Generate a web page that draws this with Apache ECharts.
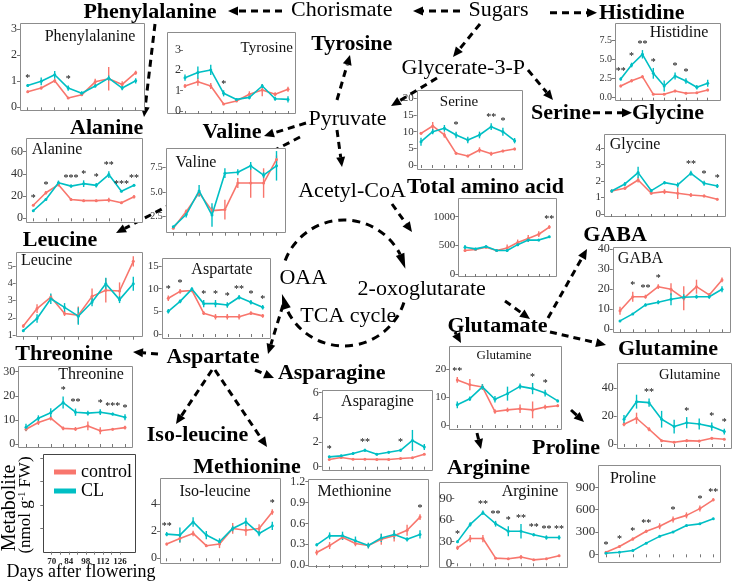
<!DOCTYPE html>
<html>
<head>
<meta charset="utf-8">
<script src="https://cdn.jsdelivr.net/npm/echarts@6/dist/echarts.min.js"></script>
<style>html,body{margin:0;padding:0;background:#fff}#chart{width:733px;height:582px}</style>
</head>
<body>
<div id="chart"></div>
<script>
// sampling days (days after flowering)
const days = [70, 77, 84, 91, 98, 105, 112, 119, 126];
const dayLabels = [70, 84, 98, 112, 126];

// metabolite means (nmol g-1 FW) and error bars, control vs CL, plus significance marks
const pheCtrl = [0.6, 0.74, 1.02, 0.36, 0.48, 0.98, 1.1, 0.88, 1.33];
const pheCL = [0.84, 1.0, 1.25, 0.74, 0.54, 0.82, 1.12, 0.74, 1.02];
const pheCtrlErr = [0.05, 0.06, 0.08, 0.04, 0.05, 0.12, 0.45, 0.12, 0.08];
const pheCLErr = [0.06, 0.15, 0.15, 0.1, 0.08, 0.06, 0.1, 0.08, 0.1];
const pheSig = ['*', '', '', '*', '', '', '', '', ''];
const pheTicks = [0, 1, 2, 3];

const tyrCtrl = [1.23, 1.44, 1.23, 0.34, 0.49, 0.82, 1.03, 0.82, 1.07];
const tyrCL = [1.64, 1.89, 2.02, 0.87, 0.57, 0.67, 1.23, 0.6, 0.57];
const tyrCtrlErr = [0.1, 0.2, 0.15, 0.05, 0.05, 0.15, 0.3, 0.1, 0.12];
const tyrCLErr = [0.15, 0.3, 0.25, 0.15, 0.05, 0.1, 0.1, 0.1, 0.15];
const tyrSig = ['', '', '', '*', '', '', '', '', ''];
const tyrTicks = [0, 1, 2, 3];

const alaCtrl = [11.8, 23, 30.3, 17, 15.9, 15.9, 16.5, 14, 19.4];
const alaCL = [6.8, 17, 32, 29, 31.2, 29.7, 39.4, 24.4, 29.7];
const alaCtrlErr = [1, 1.5, 1.5, 1, 1, 1, 2, 1, 1.5];
const alaCLErr = [1, 1, 2, 1.5, 3, 2, 3, 1, 1];
const alaSig = ['*', '*', '', '***', '*', '*', '**', '***', '**'];
const alaTicks = [0, 20, 40, 60];

const valCtrl = [1.3, 3.0, 4.9, 3.1, 3.2, 5.9, 5.9, 5.9, 8.3];
const valCL = [1.45, 2.7, 5.1, 2.65, 6.9, 7.0, 7.65, 6.7, 7.65];
const valCtrlErr = [0.1, 0.2, 0.3, 0.4, 1.0, 0.5, 1.5, 1.5, 0.4];
const valCLErr = [0.1, 0.3, 0.6, 1.2, 0.5, 0.3, 0.4, 0.3, 1.5];
const valSig = ['', '', '', '', '', '', '', '', ''];
const valTicks = [2.5, 5, 7.5];

const leuCtrl = [1.52, 2.53, 3.2, 2.25, 2.15, 3.24, 3.59, 3.55, 5.27];
const leuCL = [1.25, 1.96, 3.1, 2.6, 2.09, 2.91, 3.97, 3.05, 3.97];
const leuCtrlErr = [0.1, 0.25, 0.15, 0.15, 0.5, 0.45, 0.7, 0.5, 0.3];
const leuCLErr = [0.08, 0.25, 0.3, 0.25, 0.5, 0.25, 0.35, 0.2, 0.4];
const leuSig = ['', '', '', '', '', '', '', '', ''];
const leuTicks = [1, 2, 3, 4, 5];

const aspCtrl = [7.9, 9.4, 9.6, 4.6, 3.8, 3.8, 3.8, 4.6, 4.0];
const aspCL = [5.0, 7.2, 9.9, 6.7, 6.7, 6.4, 8.1, 7.0, 5.9];
const aspCtrlErr = [0.6, 0.5, 0.4, 0.4, 0.6, 0.6, 0.6, 0.4, 0.4];
const aspCLErr = [0.5, 0.4, 0.4, 0.8, 0.8, 0.6, 0.5, 0.5, 0.5];
const aspSig = ['*', '*', '', '*', '*', '*', '**', '*', '*'];
const aspTicks = [0, 5, 10, 15];

const thrCtrl = [6.1, 8.9, 10.7, 6.5, 6.25, 7.5, 5.5, 6.1, 6.8];
const thrCL = [6.9, 10.7, 13, 17.2, 13.2, 12.8, 13.2, 12.4, 11.1];
const thrCtrlErr = [0.8, 1, 1, 0.8, 0.8, 1.8, 1.5, 0.5, 0.8];
const thrCLErr = [1.5, 1.2, 1.8, 2.5, 1.5, 1, 1.2, 0.6, 1.2];
const thrSig = ['', '', '', '*', '**', '', '*', '***', '*'];
const thrTicks = [0, 10, 20, 30];

const serCtrl = [9.5, 11.7, 9, 3.5, 2.7, 4.5, 3.4, 4.2, 4.8];
const serCL = [7, 10, 11, 9, 7.5, 9, 11.5, 10, 7.3];
const serCtrlErr = [0.4, 1.2, 0.8, 0.4, 0.4, 0.8, 0.6, 0.4, 0.4];
const serCLErr = [1.2, 0.8, 1, 1, 1, 1, 1, 1.2, 0.8];
const serSig = ['', '', '', '*', '', '', '**', '*', ''];
const serTicks = [0, 5, 10, 15, 20];

const hisCtrl = [1.52, 2.2, 2.73, 0.44, 0.44, 0.87, 0.57, 0.65, 1.0];
const hisCL = [2.43, 4.25, 5.64, 3.17, 1.52, 2.82, 2.17, 1.35, 1.87];
const hisCtrlErr = [0.15, 0.2, 0.2, 0.1, 0.1, 0.15, 0.1, 0.1, 0.15];
const hisCLErr = [0.2, 0.3, 0.55, 0.7, 0.7, 0.45, 0.35, 0.3, 0.45];
const hisSig = ['**', '*', '**', '*', '', '*', '*', '', ''];
const hisTicks = [0, 2.5, 5, 7.5];

const glyCtrl = [1.4, 1.57, 2.07, 1.26, 1.36, 1.26, 1.16, 1.1, 0.9];
const glyCL = [1.4, 1.83, 2.52, 1.42, 1.91, 1.77, 2.48, 1.87, 1.71];
const glyCtrlErr = [0.08, 0.1, 0.15, 0.08, 0.15, 0.35, 0.12, 0.08, 0.08];
const glyCLErr = [0.1, 0.12, 0.35, 0.1, 0.1, 0.15, 0.15, 0.15, 0.12];
const glySig = ['', '', '', '', '', '', '**', '*', '*'];
const glyTicks = [0, 1, 2, 3, 4];

const totCtrl = [410, 427, 466, 410, 455, 551, 620, 694, 819];
const totCL = [466, 438, 478, 410, 410, 512, 592, 592, 648];
const totCtrlErr = [25, 20, 15, 15, 60, 50, 60, 50, 30];
const totCLErr = [40, 20, 15, 15, 20, 25, 30, 20, 20];
const totSig = ['', '', '', '', '', '', '', '', '**'];
const totTicks = [0, 500, 1000];

const gabaCtrl = [9.3, 16.3, 16.3, 21.3, 20, 15.5, 21.3, 17.2, 24.7];
const gabaCL = [4.2, 7.7, 12.2, 13.5, 15, 16, 16.3, 16.3, 20];
const gabaCtrlErr = [2, 2.5, 1, 1.2, 3, 6, 3.5, 1, 1.2];
const gabaCLErr = [0.5, 0.5, 0.8, 1, 3, 1.5, 1, 1, 1.5];
const gabaSig = ['', '*', '**', '*', '', '', '', '', ''];
const gabaTicks = [0, 10, 20, 30, 40];

const glnMCtrl = [16.1, 14.4, 13.6, 4.8, 5.4, 5.8, 5.4, 6.4, 6.9];
const glnMCL = [7.2, 9.4, 13.6, 9.2, 11.2, 13.8, 13, 11.4, 8.6];
const glnMCtrlErr = [1, 2, 1, 0.8, 0.8, 1.5, 3, 0.8, 0.5];
const glnMCLErr = [1.2, 0.8, 1, 1.2, 2.5, 1, 2, 1.2, 0.5];
const glnMSig = ['**', '', '', '', '', '', '*', '*', ''];
const glnMTicks = [0, 10, 20];

const glnRCtrl = [14.2, 18.5, 10.6, 2.4, 1.2, 2.4, 2.1, 4.1, 3.4];
const glnRCL = [17.8, 30.4, 29.7, 17.8, 12.5, 15.3, 14.4, 12.5, 8.9];
const glnRCtrlErr = [1.5, 4, 1.5, 0.8, 0.5, 1, 0.8, 0.8, 0.6];
const glnRCLErr = [3, 5, 3, 6, 5, 4, 4, 3, 2];
const glnRSig = ['', '', '**', '', '', '*', '', '*', '*'];
const glnRTicks = [0, 20, 40];

const asnCtrl = [0.59, 0.75, 0.61, 0.61, 0.59, 0.59, 0.67, 0.72, 1.01];
const asnCL = [0.8, 0.88, 1.07, 1.33, 1.01, 1.17, 1.33, 2.13, 1.6];
const asnCtrlErr = [0.05, 0.05, 0.05, 0.05, 0.05, 0.08, 0.05, 0.05, 0.06];
const asnCLErr = [0.08, 0.08, 0.1, 0.12, 0.1, 0.1, 0.12, 0.85, 0.25];
const asnSig = ['*', '', '', '**', '', '', '*', '', ''];
const asnTicks = [0, 2, 4, 6];

const metCtrl = [0.18, 0.28, 0.4, 0.31, 0.28, 0.37, 0.42, 0.5, 0.69];
const metCL = [0.29, 0.42, 0.42, 0.35, 0.28, 0.39, 0.44, 0.37, 0.44];
const metCtrlErr = [0.04, 0.05, 0.04, 0.04, 0.04, 0.08, 0.08, 0.08, 0.04];
const metCLErr = [0.02, 0.05, 0.06, 0.06, 0.04, 0.06, 0.06, 0.03, 0.06];
const metSig = ['', '', '', '', '', '', '', '', '*'];
const metTicks = [0, 0.3, 0.6, 0.9, 1.2];

const ileCtrl = [1.05, 1.46, 1.83, 0.93, 1.05, 2.2, 2.07, 2.2, 3.41];
const ileCL = [1.78, 1.71, 2.68, 1.71, 1.22, 2.2, 2.68, 1.83, 2.39];
const ileCtrlErr = [0.1, 0.3, 0.2, 0.1, 0.3, 0.4, 0.4, 0.3, 0.2];
const ileCLErr = [0.15, 0.55, 0.35, 0.3, 0.25, 0.2, 0.3, 0.2, 0.3];
const ileSig = ['**', '', '', '', '', '', '', '', '*'];
const ileTicks = [0, 2, 4];

const argCtrl = [21.4, 34.3, 34.3, 7.1, 6.2, 8.6, 4.8, 6.2, 10.5];
const argCL = [30, 53.8, 70, 54.8, 44.3, 44.3, 39.5, 35.7, 35.7];
const argCtrlErr = [3, 5, 5, 1.5, 1, 3, 1, 1, 1.5];
const argCLErr = [2, 3, 3, 4, 7, 10, 2, 3, 3];
const argSig = ['*', '', '**', '**', '*', '**', '**', '**', '**'];
const argTicks = [0, 30, 60, 90];

const proCtrl = [27, 105, 205, 309, 377, 468, 523, 614, 732];
const proCL = [14, 27, 50, 150, 241, 300, 386, 409, 477];
const proCtrlErr = [10, 15, 20, 20, 40, 40, 40, 40, 20];
const proCLErr = [8, 8, 10, 10, 10, 10, 10, 10, 15];
const proSig = ['*', '*', '*', '**', '', '*', '', '*', '**'];
const proTicks = [0, 300, 600, 900];

const RED = '#F8766D', CYAN = '#00BFC4';
const SERIF = '"Liberation Serif", "Times New Roman", serif';

// layout: box = panel frame [l,t,r,b], px = first/last point x, cal = two [value, y] pairs
const panels = [
  { c: pheCtrl, l: pheCL, ce: pheCtrlErr, le: pheCLErr, sig: pheSig, ticks: pheTicks, box: [20, 23, 144, 110], px: [27.7, 135.7], cal: [[0, 107.3], [3, 29.3]], fs: 12, title: 'Phenylalanine', tx: 90, ty: 37, tfs: 16 },
  { c: tyrCtrl, l: tyrCL, ce: tyrCtrlErr, le: tyrCLErr, sig: tyrSig, ticks: tyrTicks, box: [167, 32, 295, 113], px: [185, 288], cal: [[0, 111], [3, 50]], fs: 12, yoff: -16, title: 'Tyrosine', tx: 266.7, ty: 48, tfs: 15 },
  { c: alaCtrl, l: alaCL, ce: alaCtrlErr, le: alaCLErr, sig: alaSig, ticks: alaTicks, box: [26, 138, 141.7, 221.7], px: [33.3, 134], cal: [[0, 218.3], [60, 151.7]], fs: 12, title: 'Alanine', tx: 57, ty: 150, tfs: 16 },
  { c: valCtrl, l: valCL, ce: valCtrlErr, le: valCLErr, sig: valSig, ticks: valTicks, box: [165.7, 148.3, 285, 232.7], px: [173.3, 276.5], cal: [[2.5, 216.5], [7.5, 167.3]], fs: 10, dec: 1, title: 'Valine', tx: 196, ty: 163, tfs: 16 },
  { c: leuCtrl, l: leuCL, ce: leuCtrlErr, le: leuCLErr, sig: leuSig, ticks: leuTicks, box: [15.7, 252.3, 141.7, 336.7], px: [23.3, 133.3], cal: [[1, 335], [5, 266]], fs: 10, title: 'Leucine', tx: 46.7, ty: 261, tfs: 16 },
  { c: aspCtrl, l: aspCL, ce: aspCtrlErr, le: aspCLErr, sig: aspSig, ticks: aspTicks, box: [161.7, 258.3, 270, 338.3], px: [168.3, 262.7], cal: [[0, 334], [15, 266]], fs: 11, title: 'Aspartate', tx: 222, ty: 270, tfs: 16 },
  { c: thrCtrl, l: thrCL, ce: thrCtrlErr, le: thrCLErr, sig: thrSig, ticks: thrTicks, box: [18.3, 366, 132.7, 446.7], px: [26, 125], cal: [[0, 444], [30, 371.7]], fs: 12, title: 'Threonine', tx: 91, ty: 374.5, tfs: 16 },
  { c: serCtrl, l: serCL, ce: serCtrlErr, le: serCLErr, sig: serSig, ticks: serTicks, box: [416.7, 90, 521.7, 169.3], px: [421, 514.6], cal: [[0, 165], [20, 98.3]], fs: 11, title: 'Serine', tx: 459, ty: 101.7, tfs: 15 },
  { c: hisCtrl, l: hisCL, ce: hisCtrlErr, le: hisCLErr, sig: hisSig, ticks: hisTicks, box: [615, 23.3, 720, 100], px: [620.7, 707.7], cal: [[0, 97.7], [7.5, 40]], fs: 10, dec: 1, title: 'Histidine', tx: 679, ty: 32.3, tfs: 16 },
  { c: glyCtrl, l: glyCL, ce: glyCtrlErr, le: glyCLErr, sig: glySig, ticks: glyTicks, box: [604, 134.3, 725, 216.7], px: [611.7, 717.3], cal: [[0, 214], [4, 148.3]], fs: 11, title: 'Glycine', tx: 635, ty: 144.3, tfs: 16 },
  { c: totCtrl, l: totCL, ce: totCtrlErr, le: totCLErr, sig: totSig, ticks: totTicks, box: [458.3, 198.3, 556, 276], px: [465, 549.3], cal: [[0, 274], [1000, 216.7]], fs: 11 },
  { c: gabaCtrl, l: gabaCL, ce: gabaCtrlErr, le: gabaCLErr, sig: gabaSig, ticks: gabaTicks, box: [612.7, 247.3, 730, 332.7], px: [620, 722], cal: [[0, 329.3], [40, 249.3]], fs: 12, title: 'GABA', tx: 640.5, ty: 258.3, tfs: 16 },
  { c: glnMCtrl, l: glnMCL, ce: glnMCtrlErr, le: glnMCLErr, sig: glnMSig, ticks: glnMTicks, box: [449.3, 346, 561.7, 429.3], px: [457.3, 557.7], cal: [[0, 425], [20, 369]], fs: 11, title: 'Glutamine', tx: 504, ty: 356, tfs: 13 },
  { c: glnRCtrl, l: glnRCL, ce: glnRCtrlErr, le: glnRCLErr, sig: glnRSig, ticks: glnRTicks, box: [616.7, 363.3, 730.7, 448.3], px: [624, 724.3], cal: [[0, 444], [40, 388.3]], fs: 12, title: 'Glutamine', tx: 689.7, ty: 375, tfs: 14.5 },
  { c: asnCtrl, l: asnCL, ce: asnCtrlErr, le: asnCLErr, sig: asnSig, ticks: asnTicks, box: [321.7, 390, 431.7, 470], px: [329.3, 424.3], cal: [[0, 466.7], [6, 392.7]], fs: 12, title: 'Asparagine', tx: 377.5, ty: 401.7, tfs: 16 },
  { c: metCtrl, l: metCL, ce: metCtrlErr, le: metCLErr, sig: metSig, ticks: metTicks, box: [308.3, 479.3, 428, 566.7], px: [316.7, 420], cal: [[0, 565], [1.2, 481.7]], fs: 12, dec: 1, title: 'Methionine', tx: 354.5, ty: 491.7, tfs: 16 },
  { c: ileCtrl, l: ileCL, ce: ileCtrlErr, le: ileCLErr, sig: ileSig, ticks: ileTicks, box: [160, 478.3, 280, 563.3], px: [166.7, 272.3], cal: [[0, 558.3], [4, 504]], fs: 12, title: 'Iso-leucine', tx: 215, ty: 491.7, tfs: 16 },
  { c: argCtrl, l: argCL, ce: argCtrlErr, le: argCLErr, sig: argSig, ticks: argTicks, box: [439.3, 481.7, 567.3, 566.7], px: [457.5, 559.1], cal: [[0, 563.3], [90, 498.3]], fs: 13, yoff: -15, title: 'Arginine', tx: 530, ty: 491.7, tfs: 16 },
  { c: proCtrl, l: proCL, ce: proCtrlErr, le: proCLErr, sig: proSig, ticks: proTicks, box: [598.3, 465, 720, 561.7], px: [606, 713.3], cal: [[0, 554.3], [900, 487.3]], fs: 13, title: 'Proline', tx: 633, ty: 478.3, tfs: 16 }
];

const grids = [], xAxes = [], yAxes = [], series = [], graphics = [];

function axesFor(i, p, frameColor) {
  const [l, t, r, b] = p.box;
  const dpx = (p.px[1] - p.px[0]) / (days[days.length - 1] - days[0]);
  const [[v0, y0], [v1, y1]] = p.cal;
  const ppu = (y0 - y1) / (v1 - v0);
  grids.push({ left: l, top: t, width: r - l, height: b - t, show: false });
  // white framed panel, drawn over the pathway arrows but under axes and series
  graphics.push({ type: 'rect', z: 1, silent: true, shape: { x: Math.round(l) + 0.5, y: Math.round(t) + 0.5, width: Math.round(r - l), height: Math.round(b - t) }, style: { fill: '#fff', stroke: frameColor, lineWidth: 1 } });
  xAxes.push({
    gridIndex: i, type: 'value', z: 5,
    min: days[0] - (p.px[0] - l) / dpx, max: days[days.length - 1] + (r - p.px[1]) / dpx,
    axisLine: { show: false }, splitLine: { show: false },
    axisTick: { show: true, customValues: days, length: 3, lineStyle: { color: '#777' } },
    axisLabel: p.xLabels ? { customValues: p.xLabels, fontSize: 9, fontWeight: 'bold', color: '#222', fontFamily: SERIF, margin: 5 } : { show: false }
  });
  yAxes.push({
    gridIndex: i, type: 'value', offset: p.yoff || 0, z: 5,
    min: v0 - (b - y0) / ppu, max: v1 + (y1 - t) / ppu,
    axisLine: { show: false }, splitLine: { show: false },
    axisTick: { show: true, customValues: p.ticks, length: 3, lineStyle: { color: '#777' } },
    axisLabel: p.noYLabels ? { show: false } : {
      customValues: p.ticks, fontSize: p.fs, color: '#333', fontFamily: SERIF, margin: p.yoff ? 2 : 3,
      formatter: v => p.dec ? v.toFixed(p.dec) : String(v)
    }
  });
}

function errSeries(i, vals, errs, color) {
  return {
    type: 'custom', xAxisIndex: i, yAxisIndex: i, silent: true, z: 3,
    data: days.map((d, k) => [d, vals[k], errs[k]]),
    renderItem: (params, api) => {
      const x = api.value(0), m = api.value(1), e = api.value(2);
      const a = api.coord([x, m - e]), c = api.coord([x, m + e]);
      return { type: 'line', shape: { x1: a[0], y1: a[1], x2: c[0], y2: c[1] }, style: { stroke: color, lineWidth: 1.4 } };
    }
  };
}

panels.forEach((p, i) => {
  axesFor(i, p, '#8c8c8c');
  series.push({
    type: 'line', name: 'control', xAxisIndex: i, yAxisIndex: i,
    data: days.map((d, k) => [d, p.c[k]]), symbol: 'circle', symbolSize: 3,
    lineStyle: { width: 1.6, color: RED }, itemStyle: { color: RED }, z: 3
  });
  series.push(errSeries(i, p.c, p.ce, RED));
  series.push({
    type: 'line', name: 'CL', xAxisIndex: i, yAxisIndex: i,
    data: days.map((d, k) => [d, p.l[k]]), symbol: 'circle', symbolSize: 3,
    lineStyle: { width: 1.6, color: CYAN }, itemStyle: { color: CYAN }, z: 4
  });
  series.push(errSeries(i, p.l, p.le, CYAN));
  series.push({
    type: 'custom', xAxisIndex: i, yAxisIndex: i, silent: true, z: 5,
    data: days.map((d, k) => [d, Math.max(p.c[k] + p.ce[k], p.l[k] + p.le[k])]),
    renderItem: (params, api) => {
      const s = p.sig[params.dataIndex];
      if (!s) return null;
      const pt = api.coord([api.value(0), api.value(1)]);
      return { type: 'text', x: pt[0], y: pt[1] - 1, style: { text: s, align: 'center', verticalAlign: 'bottom', fontSize: 10, fontFamily: SERIF, fill: '#000' } };
    }
  });
  if (p.title) {
    graphics.push({ type: 'text', x: p.tx, y: p.ty, z: 10, style: { text: p.title, align: 'center', verticalAlign: 'middle', fontSize: p.tfs, fontFamily: SERIF, fill: '#111' } });
  }
});

// empty key panel with the shared x scale
axesFor(panels.length, { box: [43.3, 454, 135, 551.7], px: [51.7, 120], cal: [[0, 551.7], [1, 528.3]], ticks: [1, 2, 3, 4], xLabels: dayLabels, noYLabels: true }, '#444');

// pathway labels [text, centre x, centre y]
const boldLabels = [
  ['Phenylalanine', 150, 12], ['Alanine', 106.7, 128], ['Valine', 232, 132], ['Tyrosine', 351.7, 44],
  ['Histidine', 641.7, 13], ['Serine', 561, 113], ['Glycine', 668, 113], ['Total amino acid', 485.5, 187],
  ['Leucine', 60, 240], ['GABA', 615, 235], ['Threonine', 64, 354], ['Aspartate', 213, 357],
  ['Glutamate', 497.5, 326], ['Glutamine', 668, 349], ['Asparagine', 331.7, 373], ['Iso-leucine', 197.5, 435],
  ['Methionine', 247, 467], ['Proline', 566, 448], ['Arginine', 488.5, 468]
];
const plainLabels = [
  ['Chorismate', 341.7, 10], ['Sugars', 498.5, 10], ['Glycerate-3-P', 463.3, 68], ['Pyruvate', 347.5, 119.5],
  ['Acetyl-CoA', 352, 191], ['OAA', 303.3, 278], ['2-oxoglutarate', 421.7, 289], ['TCA cycle', 348.3, 316]
];
boldLabels.forEach(([t, x, y]) => graphics.push({ type: 'text', x, y, z: 10, style: { text: t, align: 'center', verticalAlign: 'middle', fontSize: 22, fontWeight: 'bold', fontFamily: SERIF, fill: '#000' } }));
plainLabels.forEach(([t, x, y]) => graphics.push({ type: 'text', x, y, z: 10, style: { text: t, align: 'center', verticalAlign: 'middle', fontSize: 22, fontFamily: SERIF, fill: '#000' } }));

function head(tx, ty, bx, by) {
  const dx = tx - bx, dy = ty - by, len = Math.hypot(dx, dy), ux = dx / len, uy = dy / len, hw = 4.5;
  return { type: 'polygon', z: 0, silent: true, shape: { points: [[tx, ty], [bx - uy * hw, by + ux * hw], [bx + uy * hw, by - ux * hw]] }, style: { fill: '#000' } };
}
function arrow(x1, y1, x2, y2, solid) {
  const len = Math.hypot(x2 - x1, y2 - y1), ux = (x2 - x1) / len, uy = (y2 - y1) / len;
  const bx = x2 - ux * 10, by = y2 - uy * 10;
  const style = { stroke: '#000', lineWidth: 3 };
  if (!solid) style.lineDash = [7, 5];
  graphics.push({ type: 'line', z: 0, silent: true, shape: { x1, y1, x2: bx, y2: by }, style });
  graphics.push(head(x2, y2, bx, by));
}
arrow(460, 11, 413, 11);
arrow(282, 11, 228, 11);
arrow(550, 12.7, 597, 12.7);
arrow(480, 24, 453, 57);
arrow(528, 70, 553, 100);
arrow(593, 112.7, 632, 112.7);
arrow(437, 78, 391, 106);
arrow(337, 100, 350, 55);
arrow(306, 123, 264, 136);
arrow(300, 137, 116, 233);
arrow(337, 130, 342, 167);
arrow(392, 204, 412, 232);
arrow(155, 24, 144, 117);
arrow(283, 305, 268, 354);
arrow(158, 354, 133, 352);
arrow(255, 370, 274, 378);
arrow(212, 370, 176, 424);
arrow(215, 370, 267, 447);
arrow(505, 301, 530, 319);
arrow(548, 318, 587, 249);
arrow(550, 332, 606, 345);
arrow(455, 332, 461, 343);
arrow(477, 433, 481, 449, true);
arrow(571, 410, 584, 422, true);

// TCA cycle ring
const cx = 344, cy = 283, rr = 63, rad = a => a * Math.PI / 180;
const onRing = a => [cx + rr * Math.cos(rad(a)), cy + rr * Math.sin(rad(a))];
[[201, 333, 347], [18, 156, 170]].forEach(([s, e, tip]) => {
  graphics.push({ type: 'arc', z: 0, silent: true, shape: { cx, cy, r: rr, startAngle: rad(s), endAngle: rad(e), clockwise: true }, style: { stroke: '#000', lineWidth: 3, lineDash: [8, 6], fill: 'none' } });
  const t = onRing(tip), b = onRing(e);
  graphics.push(head(t[0], t[1], b[0], b[1]));
});

// key panel titles
graphics.push({ type: 'text', x: 10, y: 508, rotation: Math.PI / 2, z: 10, style: { text: 'Metabolite', align: 'center', verticalAlign: 'middle', fontSize: 20, fontFamily: SERIF, fill: '#000' } });
graphics.push({ type: 'text', x: 26, y: 505, rotation: Math.PI / 2, z: 10, style: {
  text: '{a|(nmol g}{s|-1}{a| FW)}', align: 'center', verticalAlign: 'middle',
  rich: { a: { fontSize: 17, fontFamily: SERIF, fill: '#000' }, s: { fontSize: 10, fontFamily: SERIF, fill: '#000', verticalAlign: 'top' } }
} });
graphics.push({ type: 'text', x: 81, y: 572, z: 10, style: { text: 'Days after flowering', align: 'center', verticalAlign: 'middle', fontSize: 18, fontFamily: SERIF, fill: '#000' } });

const chart = echarts.init(document.getElementById('chart'));
chart.setOption({
  animation: false,
  backgroundColor: '#fff',
  grid: grids, xAxis: xAxes, yAxis: yAxes, series,
  legend: {
    data: ['control', 'CL'], orient: 'vertical', left: 49, top: 458, icon: 'rect',
    itemWidth: 22, itemHeight: 5, itemGap: 1, z: 10,
    textStyle: { fontSize: 18, fontFamily: SERIF, color: '#000', lineHeight: 18 }
  },
  graphic: graphics
});
</script>
</body>
</html>
